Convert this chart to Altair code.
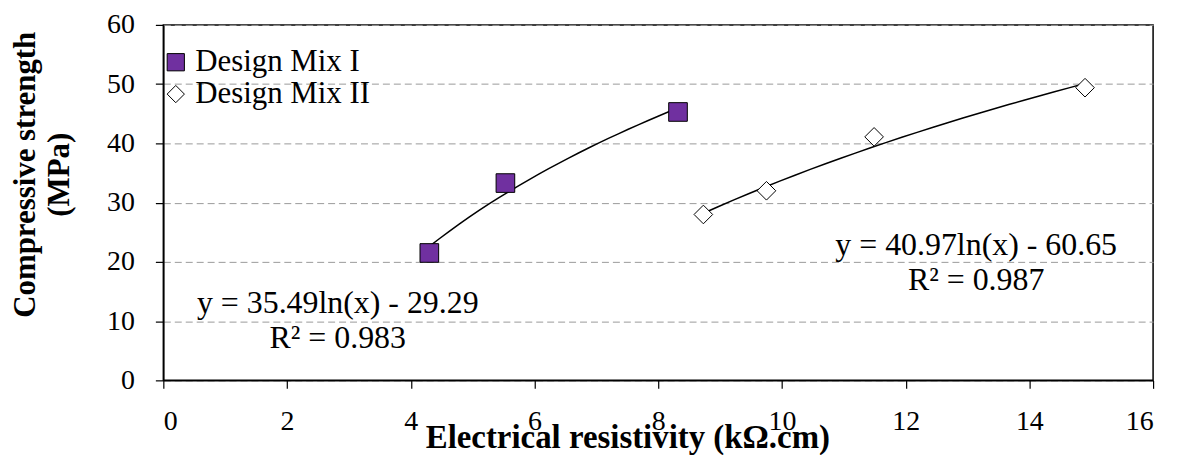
import altair as alt
import pandas as pd

# Data
mix_names = ["Design Mix I", "Design Mix II"]
mix1_resistivity = [4.30, 5.53, 8.32]
mix1_strength = [21.5, 33.3, 45.3]
mix2_resistivity = [8.73, 9.75, 11.49, 14.90]
mix2_strength = [28.0, 32.0, 41.1, 49.4]

# Trendline labels as shown on the chart
eq_texts = ["y = 35.49ln(x) - 29.29", "R² = 0.983", "y = 40.97ln(x) - 60.65", "R² = 0.987"]
eq_x = [2.82, 2.82, 13.14, 13.14]
eq_y = [11.4, 5.5, 21.1, 15.3]

x_ticks = list(range(0, 17, 2))
y_ticks = list(range(0, 61, 10))

rows = []
for x, y in zip(mix1_resistivity, mix1_strength):
    rows.append({"mix": mix_names[0], "R": x, "S": y})
for x, y in zip(mix2_resistivity, mix2_strength):
    rows.append({"mix": mix_names[1], "R": x, "S": y})
df = pd.DataFrame(rows)
ann = pd.DataFrame({"t": eq_texts, "x": eq_x, "y": eq_y})

FONT = "Liberation Serif"

xscale = alt.Scale(domain=[0, 16], nice=False, zero=False)
yscale = alt.Scale(domain=[0, 60], nice=False, zero=False)

xaxis = alt.Axis(
    title="Electrical resistivity  (kΩ.cm)", values=x_ticks, grid=False, format="d",
    labelFont=FONT, labelFontSize=28, labelColor="black",
    titleFont=FONT, titleFontSize=33, titleFontWeight="bold", titleColor="black",
    titleX=466, titleY=67, titleBaseline="alphabetic",
    labelBaseline="alphabetic", labelPadding=41,
)
yaxis = alt.Axis(
    title=["Compressive strength", "(MPa)"], values=y_ticks, grid=True, format="d",
    labelFont=FONT, labelFontSize=28, labelColor="black",
    titleFont=FONT, titleFontSize=31, titleFontWeight="bold", titleColor="black",
    gridDash=[7, 4], gridColor="#999999", gridWidth=1,
    titleX=-153, titleY=150, titleBaseline="top", titleLineHeight=34,
    labelPadding=21,
)

leg = alt.Legend(title=None, orient="none", legendX=-3, legendY=22,
                 labelFont=FONT, labelFontSize=31, labelColor="black", labelLimit=400,
                 symbolSize=300, labelOffset=4, rowPadding=0, padding=0,
                 symbolStrokeWidth=1)

points = alt.Chart(df).mark_point(filled=True, strokeWidth=1, opacity=1, size=350).encode(
    x=alt.X("R:Q", scale=xscale, axis=xaxis),
    y=alt.Y("S:Q", scale=yscale, axis=yaxis),
    fill=alt.Fill("mix:N", scale=alt.Scale(domain=mix_names, range=["#7030A0", "#FFFFFF"]), legend=leg),
    stroke=alt.Stroke("mix:N", scale=alt.Scale(domain=mix_names, range=["#000000", "#000000"]), legend=leg),
    shape=alt.Shape("mix:N", scale=alt.Scale(domain=mix_names, range=["square", "diamond"]), legend=leg),
)

trend = alt.Chart(df).transform_regression(
    "R", "S", method="log", groupby=["mix"]
).mark_line(color="black", strokeWidth=1.5).encode(
    x=alt.X("R:Q", scale=xscale, axis=xaxis),
    y=alt.Y("S:Q", scale=yscale, axis=yaxis),
    detail="mix:N",
)

labels = alt.Chart(ann).mark_text(font=FONT, fontSize=32, color="black", align="center",
                                  baseline="alphabetic").encode(
    x=alt.X("x:Q", scale=xscale),
    y=alt.Y("y:Q", scale=yscale),
    text="t:N",
)

chart = alt.layer(trend, points, labels).properties(
    width=994, height=357,
    autosize=alt.AutoSizeParams(type="none"),
    padding={"left": 156, "top": 16, "right": 20, "bottom": 74},
    background="white",
).configure(
    font=FONT
).configure_view(
    stroke="black", strokeWidth=1.5
).configure_axis(
    labelFont=FONT, titleFont=FONT,
    domainColor="black", domainWidth=1.5, tickColor="black", tickSize=8, tickWidth=1.2,
)

chart.save("out.html", embed_options={"renderer": "svg", "actions": False})
